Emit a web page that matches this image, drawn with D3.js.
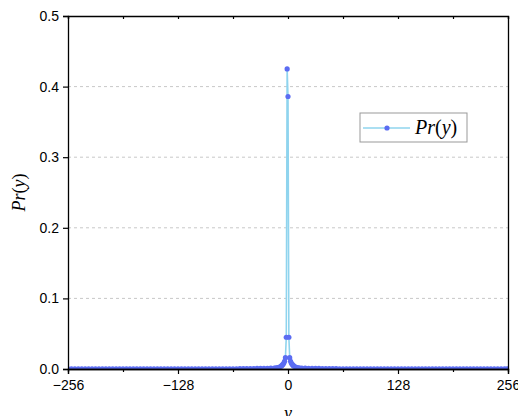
<!DOCTYPE html>
<html><head><meta charset="utf-8">
<script src="https://cdn.jsdelivr.net/npm/d3@7"></script>
<style>body{margin:0;background:#fff}svg{display:block}</style>
</head><body><svg id="c" width="518" height="416"></svg>
<script>
// ---- data ----
const leftTailX = [-256,-252,-248,-244,-240,-236,-232,-228,-224,-220,-216,-212,-208,-204,-200,-196,-192,-188,-184,-180,-176,-172,-168,-164,-160,-156,-152,-148,-144,-140,-136,-132,-128,-124,-120,-116,-112,-108,-104,-100,-96,-92,-88,-84,-80,-76,-72,-68,-64,-60,-56,-52,-48,-44,-40,-36,-32,-28,-24,-20,-16];
const leftTailY = [0.0002,0.0002,0.0002,0.0002,0.0002,0.0002,0.0002,0.0002,0.0002,0.0002,0.0002,0.0002,0.0002,0.0002,0.0002,0.0002,0.0002,0.0002,0.0002,0.0002,0.0002,0.0002,0.0002,0.0002,0.0002,0.0002,0.0002,0.0002,0.0002,0.0002,0.0002,0.0002,0.0002,0.0002,0.0002,0.0002,0.0002,0.0002,0.0002,0.0002,0.0003,0.0003,0.0003,0.0003,0.0003,0.0003,0.0003,0.0003,0.0003,0.0003,0.0005,0.0005,0.0005,0.0005,0.0005,0.0008,0.0008,0.0008,0.0008,0.0012,0.0012];
const centerX = [-14,-12,-10,-8,-7,-6,-5,-4,-3,-2,-1,0,1,2,3,4,5,6,7,9,11,13];
const centerY = [0.0015,0.002,0.0028,0.004,0.005,0.0065,0.008,0.011,0.016,0.045,0.425,0.386,0.045,0.016,0.011,0.008,0.0065,0.005,0.004,0.0028,0.002,0.0015];
const rightTailX = [16,20,24,28,32,36,40,44,48,52,56,60,64,68,72,76,80,84,88,92,96,100,104,108,112,116,120,124,128,132,136,140,144,148,152,156,160,164,168,172,176,180,184,188,192,196,200,204,208,212,216,220,224,228,232,236,240,244,248,252,255];
const rightTailY = [0.0012,0.0012,0.0008,0.0008,0.0008,0.0008,0.0005,0.0005,0.0005,0.0005,0.0005,0.0003,0.0003,0.0003,0.0003,0.0003,0.0003,0.0003,0.0003,0.0003,0.0003,0.0002,0.0002,0.0002,0.0002,0.0002,0.0002,0.0002,0.0002,0.0002,0.0002,0.0002,0.0002,0.0002,0.0002,0.0002,0.0002,0.0002,0.0002,0.0002,0.0002,0.0002,0.0002,0.0002,0.0002,0.0002,0.0002,0.0002,0.0002,0.0002,0.0002,0.0002,0.0002,0.0002,0.0002,0.0002,0.0002,0.0002,0.0002,0.0002,0.0002];
const xTicks = [-256,-128,0,128,256];
const xMinor = [-192,-64,64,192];
const yTicks = [0.0,0.1,0.2,0.3,0.4,0.5];
const gridY = [0.1,0.2,0.3,0.4];

const data = [];
[[leftTailX,leftTailY],[centerX,centerY],[rightTailX,rightTailY]].forEach(([xs,ys])=>xs.forEach((v,i)=>data.push({x:v,y:ys[i]})));

const L=68,R=508,T=16,B=369;
const svg=d3.select("#c");
const x=d3.scaleLinear().domain([-256,256]).range([L,R]);
const y=d3.scaleLinear().domain([0,0.5]).range([B,T]);
const lineC="#8fd4ee", markC="#5b6cf2";

// grid
svg.append("g").selectAll("line").data(gridY).join("line")
  .attr("x1",L).attr("x2",R).attr("y1",d=>y(d)).attr("y2",d=>y(d))
  .attr("stroke","#c8c8c8").attr("stroke-width",1).attr("stroke-dasharray","3,3");

// line + markers
svg.append("clipPath").attr("id","cp").append("rect").attr("x",L).attr("y",T-5).attr("width",R-L).attr("height",B-T+5);
const g=svg.append("g").attr("clip-path","url(#cp)");
g.append("path").datum(data).attr("fill","none").attr("stroke",lineC).attr("stroke-width",1.6)
  .attr("d",d3.line().x(d=>x(d.x)).y(d=>y(d.y)));
g.selectAll("circle").data(data).join("circle").attr("cx",d=>x(d.x)).attr("cy",d=>y(d.y)).attr("r",2.6).attr("fill",markC);

// axes
const fmt=d3.format(".1f");
const ax=svg.append("g").attr("transform",`translate(0,${B})`).call(d3.axisBottom(x).tickValues(xTicks).tickSize(5).tickFormat(d=>d<0?"\u2212"+(-d):d));
svg.append("g").attr("transform",`translate(0,${B})`).call(d3.axisBottom(x).tickValues(xMinor).tickSize(3).tickFormat(""));
const ay=svg.append("g").attr("transform",`translate(${L},0)`).call(d3.axisLeft(y).tickValues(yTicks).tickSize(5).tickFormat(fmt));
svg.append("g").attr("transform",`translate(0,${T})`).call(d3.axisBottom(x).tickValues(xTicks.concat(xMinor)).tickSize(3).tickFormat(""));
svg.append("g").attr("transform",`translate(${R},0)`).call(d3.axisRight(y).tickValues([]).tickSize(0).tickFormat(""));
svg.selectAll(".domain").attr("stroke","#000").attr("stroke-width",1.3);
svg.selectAll(".tick line").attr("stroke","#000").attr("stroke-width",1.2);
svg.selectAll(".tick text").attr("font-family","Liberation Sans, Arial, sans-serif").attr("font-size",14).attr("fill","#000");
ax.selectAll(".tick text").attr("dy","0.9em");
ay.selectAll(".tick text").attr("dx","-1");

// axis titles
const mathFont="Liberation Serif, DejaVu Serif, serif";
svg.append("text").attr("x",x(0)).attr("y",419).attr("text-anchor","middle").attr("font-family",mathFont).attr("font-style","italic").attr("font-size",18).text("y");
const yl=svg.append("text").attr("transform",`translate(25,${(T+B)/2}) rotate(-90)`).attr("text-anchor","middle").attr("font-family",mathFont).attr("font-size",18);
yl.append("tspan").attr("font-style","italic").text("Pr");
yl.append("tspan").text("(");
yl.append("tspan").attr("font-style","italic").text("y");
yl.append("tspan").text(")");

// legend
const lg=svg.append("g").attr("transform","translate(360,113)");
lg.append("rect").attr("width",107).attr("height",29).attr("fill","#fff").attr("stroke","#999").attr("stroke-width",1);
lg.append("line").attr("x1",3).attr("x2",50).attr("y1",15).attr("y2",15).attr("stroke",lineC).attr("stroke-width",1.6);
lg.append("circle").attr("cx",27).attr("cy",15).attr("r",2.6).attr("fill",markC);
const lt=lg.append("text").attr("x",55).attr("y",21).attr("font-family",mathFont).attr("font-size",20);
lt.append("tspan").attr("font-style","italic").text("Pr");
lt.append("tspan").text("(");
lt.append("tspan").attr("font-style","italic").text("y");
lt.append("tspan").text(")");
</script></body></html>
